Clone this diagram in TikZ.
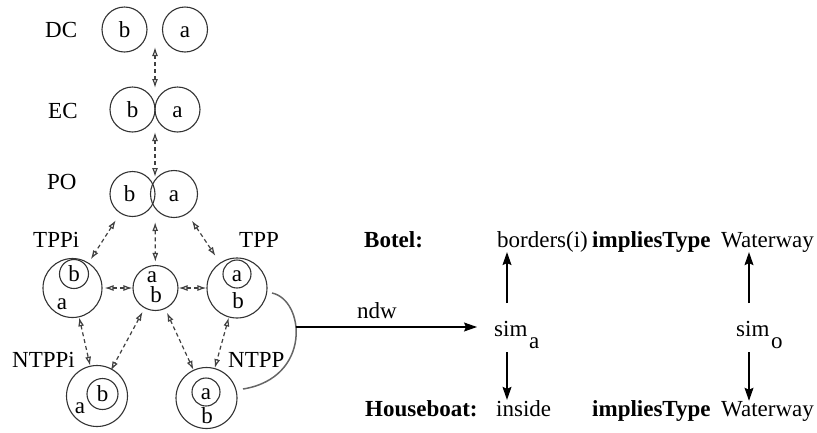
\documentclass[tikz,border=0pt]{standalone}
\usepackage{fontspec}
\setmainfont{Liberation Serif}
\newfontfamily\tnrfont{Liberation Serif}
\usetikzlibrary{arrows.meta}
\begin{document}
\begin{tikzpicture}[x=1pt,y=-1pt,
  every node/.style={font=\tnrfont\fontsize{23}{27}\selectfont},
  bftext/.style={font=\tnrfont\fontsize{23}{27}\selectfont\bfseries},
  ring/.style={circle,draw=black!80,line width=1.1pt,inner sep=0pt,text height=15pt,text depth=0pt},
  lbl/.style={anchor=base west,inner sep=0pt},
  ltr/.style={anchor=base,inner sep=0pt},
  dar/.style={draw=black!75,line width=1.2pt,dash pattern=on 4pt off 3pt,
    {Latex[open,length=9pt,width=6pt]}-{Latex[open,length=9pt,width=6pt]}},
  sar/.style={draw=black,line width=1.1pt,-{Stealth[length=13pt,width=9pt,inset=2pt]}}
]
\useasboundingbox (0,0) rectangle (817,432);

% --- RCC8 circles ---
\node[ring,minimum size=45pt] (dcb) at (124.5,29.5) {b};
\node[ring,minimum size=45pt] (dca) at (185,29.5) {a};
\node[ring,minimum size=45pt] (ecb) at (132.5,109.5) {b};
\node[ring,minimum size=45pt] (eca) at (177.5,109.5) {a};
\node[ring,minimum size=45pt] (pob) at (132.5,194) {\hspace*{-6pt}b};
\node[ring,minimum size=47pt] (poa) at (174,194) {a};

\node[ring,minimum size=59pt] (tppi) at (72.5,288) {};
\node[ring,minimum size=29pt] (tppib) at (74,274) {b};
\node[ltr] (tppia) at (62,309) {a};

\node[ring,minimum size=45pt] (mid) at (155.5,288) {};
\node[ltr] (mida) at (152,282) {a};
\node[ltr] (midb) at (156,302) {b};

\node[ring,minimum size=60pt] (tpp) at (237,288) {};
\node[ring,minimum size=28pt] (tppa) at (237,274) {a};
\node[ltr] (tppb) at (238,308) {b};

\node[ring,minimum size=61pt] (ntppi) at (97,396) {};
\node[ring,minimum size=31pt] (ntppib) at (102.5,394) {b};
\node[ltr] (ntppia) at (80,413) {a};

\node[ring,minimum size=61pt] (ntpp) at (206.5,398) {};
\node[ring,minimum size=28pt] (ntppa) at (206,392) {a};
\node[ltr] (ntppb) at (207,423) {b};

% --- relation labels ---
\node[lbl] (ldc) at (45,37) {DC};
\node[lbl] (lec) at (48,118) {EC};
\node[lbl] (lpo) at (47,189) {PO};
\node[lbl] (ltppi) at (33,247) {TPPi};
\node[lbl] (ltpp) at (239,247) {TPP};
\node[lbl] (lntppi) at (12,367) {NTPPi};
\node[lbl] (lntpp) at (228,367) {NTPP};

% --- dashed transitions ---
\coordinate (dcm) at (155,30);
\coordinate (ecm) at (155,110);
\coordinate (pom) at (155,194);
\draw[dar,shorten <=17pt,shorten >=22pt] (dcm) -- (ecm);
\draw[dar,shorten <=22pt,shorten >=17pt] (ecm) -- (pom);
\draw[dar,shorten <=28pt,shorten >=3pt] (pom) -- (mid);
\draw[dar,shorten <=8pt,shorten >=4pt] (pob) -- (tppi);
\draw[dar,shorten <=8pt,shorten >=8pt] (poa) -- (tpp);
\draw[dar,shorten <=2pt] (tppi) -- (mid);
\draw[dar] (mid) -- (tpp);
\draw[dar] (tppi) -- (ntppi);
\draw[dar,shorten <=4pt,shorten >=-2pt] (mid) -- (ntppi);
\draw[dar,shorten <=4pt] (mid) -- (ntpp);
\draw[dar] (tpp) -- (ntpp);

% --- grouping arc and ndw arrow ---
\coordinate (arcs) at (272,293);
\coordinate (arce) at (243,389);
\coordinate (arcm) at (296,327);
\draw[draw=black!60,line width=1.5pt] (arcs) .. controls (305,300) and (312,378) .. (arce);

% --- right side ---
\node[lbl,bftext] (botel) at (364,247) {Botel:};
\node[lbl] (bord) at (497,247) {borders(i)};
\node[lbl,bftext] (imp1) at (592,247) {impliesType};
\node[lbl] (wat1) at (721,247) {Waterway};

\node[lbl,bftext] (house) at (365,416) {Houseboat:};
\node[lbl] (ins) at (496,416) {inside};
\node[lbl,bftext] (imp2) at (592,416) {impliesType};
\node[lbl] (wat2) at (721,416) {Waterway};

\node[lbl] (ndw) at (357,318) {ndw};
\node[lbl] (sima) at (494,336) {sim};
\node[lbl] (simasub) at (529,348) {a};
\node[lbl] (simo) at (736,336) {sim};
\node[lbl] (simosub) at (771,348) {o};

\draw[sar,shorten >=17pt] (arcm) -- (arcm -| sima.west);
\coordinate (upa) at (507,303);
\coordinate (dna) at (507,352);
\coordinate (upo) at (749,303);
\coordinate (dno) at (749,352);
\draw[sar] (upa) -- (upa |- bord.south);
\draw[sar] (dna) -- (dna |- ins.north);
\draw[sar] (upo) -- (upo |- wat1.south);
\draw[sar] (dno) -- (dno |- wat2.north);
\end{tikzpicture}
\end{document}
